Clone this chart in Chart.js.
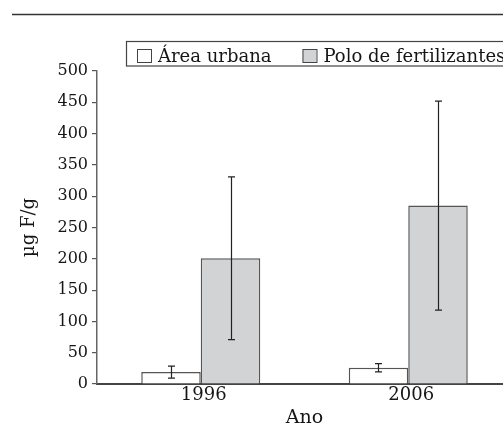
<!DOCTYPE html>
<html><head><meta charset="utf-8">
<script src="https://cdn.jsdelivr.net/npm/chart.js@4"></script>
<style>html,body{margin:0;padding:0;overflow:hidden;background:#fff}</style>
</head><body>
<canvas id="c" width="520" height="430"></canvas>
<script>
const categories = ['1996', '2006'];
const seriesNames = ['Área urbana', 'Polo de fertilizantes'];
const urbanaValues = [19, 26];
const urbanaErrors = [9.5, 6.5];
const poloValues = [201, 285];
const poloErrors = [130, 167];
const yTickValues = [0, 50, 100, 150, 200, 250, 300, 350, 400, 450, 500];
const xTitle = 'Ano';
const yTitle = 'µg F/g';

const FONT = '"DejaVu Serif", "Liberation Serif", serif';
const INK = '#151515';

const errorBars = {
  id: 'errorBars',
  afterDatasetsDraw(chart) {
    const ctx = chart.ctx, ys = chart.scales.y;
    ctx.save();
    ctx.strokeStyle = '#222';
    ctx.lineWidth = 1.2;
    chart.data.datasets.forEach((ds, i) => {
      const meta = chart.getDatasetMeta(i);
      meta.data.forEach((bar, j) => {
        const v = ds.data[j], e = ds.errors[j];
        const yt = ys.getPixelForValue(v + e), yb = ys.getPixelForValue(v - e);
        const x = Math.round(bar.x) + 0.5;
        ctx.beginPath();
        ctx.moveTo(x, yt); ctx.lineTo(x, yb);
        ctx.moveTo(x - 3.5, yt); ctx.lineTo(x + 3.5, yt);
        ctx.moveTo(x - 3.5, yb); ctx.lineTo(x + 3.5, yb);
        ctx.stroke();
      });
    });
    ctx.restore();
  }
};

const frameLegend = {
  id: 'frameLegend',
  afterDraw(chart) {
    const ctx = chart.ctx;
    ctx.save();
    ctx.strokeStyle = '#333';
    ctx.lineWidth = 1.5;
    ctx.beginPath(); ctx.moveTo(12, 14.5); ctx.lineTo(chart.width, 14.5); ctx.stroke();
    ctx.lineWidth = 1.2;
    ctx.strokeStyle = '#444';
    ctx.strokeRect(126.5, 41.5, 440, 24.5);
    ctx.font = '18px ' + FONT;
    ctx.textBaseline = 'alphabetic';
    let x = 137;
    chart.data.datasets.forEach((ds) => {
      ctx.fillStyle = ds.backgroundColor;
      ctx.fillRect(x, 49, 14, 13);
      ctx.strokeStyle = '#444'; ctx.lineWidth = 1;
      ctx.strokeRect(x + 0.5, 49.5, 14, 13);
      ctx.fillStyle = INK;
      ctx.fillText(ds.label, x + 21, 62);
      x += 21 + ctx.measureText(ds.label).width + 31;
    });
    ctx.restore();
  }
};

new Chart(document.getElementById('c'), {
  type: 'bar',
  data: {
    labels: categories,
    datasets: [
      { label: seriesNames[0], data: urbanaValues, errors: urbanaErrors,
        backgroundColor: '#ffffff', borderColor: '#555', borderWidth: 1.5, borderSkipped: 'start' },
      { label: seriesNames[1], data: poloValues, errors: poloErrors,
        backgroundColor: '#d2d3d5', borderColor: '#555', borderWidth: 1.5, borderSkipped: 'start' }
    ]
  },
  options: {
    responsive: false,
    animation: false,
    layout: { padding: { top: 71, right: 8, left: 0, bottom: 0 } },
    plugins: { legend: { display: false }, tooltip: { enabled: false } },
    datasets: { bar: { categoryPercentage: 0.5735, barPercentage: 1.0 } },
    scales: {
      x: {
        afterFit(s) { s.height = 46; },
        grid: { display: true, drawOnChartArea: false, drawTicks: false },
        border: { display: true, color: '#444', width: 2 },
        ticks: { color: INK, font: { family: FONT, size: 18 }, padding: 1, labelOffset: 3 },
        title: { display: true, text: xTitle, color: INK, font: { family: FONT, size: 19 }, padding: { top: 0, bottom: 1 } }
      },
      y: {
        min: 0, max: 500,
        afterFit(s) { s.width = 97; },
        afterBuildTicks(s) { s.ticks = yTickValues.map(v => ({ value: v })); },
        grid: { display: true, drawOnChartArea: false, drawTicks: true, tickLength: 5, color: '#555', lineWidth: 1.2 },
        border: { display: true, color: '#666', width: 1.5 },
        ticks: { color: INK, font: { family: FONT, size: 16 }, padding: 4 },
        title: { display: true, text: yTitle, color: INK, font: { family: FONT, size: 18 }, padding: { top: 19, bottom: 0 } }
      }
    }
  },
  plugins: [errorBars, frameLegend]
});
</script>
</body></html>
